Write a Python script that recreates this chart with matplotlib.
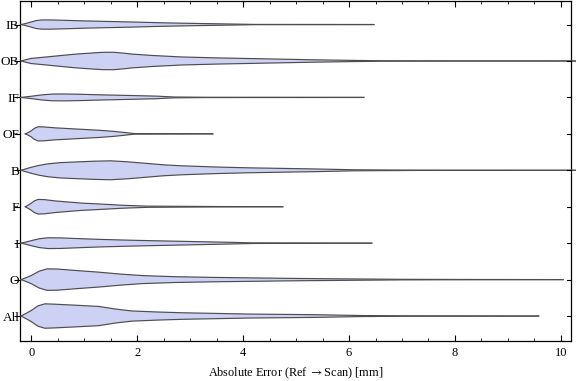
import matplotlib
matplotlib.use("Agg")
import matplotlib.pyplot as plt
from matplotlib.ticker import MultipleLocator

plt.rcParams['font.family'] = ['Liberation Serif', 'DejaVu Serif']
plt.rcParams['mathtext.fontset'] = 'stix'

categories = ["IB", "OB", "IF", "OF", "B", "F", "I", "O", "All"]

# violin outlines: positions along x (mm) and half-widths (in row units)
IB_x = [-0.19, -0.1, 0.0, 0.1, 0.2, 0.35, 0.6, 1.0, 1.3, 1.9, 2.5, 3.2, 3.8, 4.2, 6.47]
IB_w = [0, 0.03, 0.07, 0.11, 0.126, 0.127, 0.118, 0.1, 0.09, 0.07, 0.047, 0.028, 0.014, 0.004, 0.0015]
OB_x = [-0.19, -0.1, 0.0, 0.32, 0.6, 0.83, 1.1, 1.35, 1.55, 1.75, 1.9, 2.3, 2.85, 3.5, 4.1,
        5.36, 6.0, 6.6, 8.1, 10.4]
OB_w = [0, 0.035, 0.07, 0.115, 0.155, 0.187, 0.215, 0.238, 0.24, 0.215, 0.19, 0.15, 0.11, 0.085,
        0.068, 0.032, 0.018, 0.006, 0.002, 0.001]
IF_x = [-0.19, -0.1, 0.0, 0.2, 0.4, 0.6, 0.9, 1.27, 1.8, 2.34, 2.7, 3.3, 6.28]
IF_w = [0, 0.015, 0.032, 0.07, 0.092, 0.095, 0.088, 0.073, 0.055, 0.037, 0.012, 0.004, 0.0015]
OF_x = [-0.11, -0.05, 0.0, 0.06, 0.13, 0.25, 0.45, 0.64, 0.95, 1.27, 1.55, 1.77, 1.95, 3.43]
OF_w = [0, 0.04, 0.08, 0.15, 0.195, 0.19, 0.165, 0.15, 0.125, 0.1, 0.07, 0.037, 0.008, 0.0015]
B_x = [-0.19, -0.1, 0.0, 0.15, 0.32, 0.55, 0.83, 1.2, 1.5, 1.8, 2.2, 2.5, 2.85, 3.5, 4.1, 5.36,
       6.1, 7.25, 10.4]
B_w = [0, 0.04, 0.082, 0.135, 0.178, 0.21, 0.228, 0.25, 0.26, 0.235, 0.187, 0.15, 0.123, 0.09,
       0.068, 0.037, 0.014, 0.004, 0.001]
F_x = [-0.11, -0.05, 0.0, 0.06, 0.13, 0.25, 0.45, 0.64, 0.95, 1.27, 1.72, 2.2, 3.6, 4.75]
F_w = [0, 0.05, 0.095, 0.16, 0.2, 0.195, 0.16, 0.137, 0.1, 0.077, 0.041, 0.016, 0.005, 0.0015]
I_x = [-0.19, -0.1, 0.0, 0.15, 0.32, 0.55, 0.9, 1.27, 1.9, 2.53, 3.2, 3.8, 4.2, 6.43]
I_w = [0, 0.03, 0.068, 0.12, 0.148, 0.145, 0.125, 0.105, 0.08, 0.06, 0.04, 0.022, 0.008, 0.0015]
O_x = [-0.19, -0.1, 0.0, 0.15, 0.3, 0.5, 0.8, 1.27, 1.7, 2.1, 2.7, 3.47, 5.0, 6.1, 7.0, 8.43, 10.04]
O_w = [0, 0.05, 0.11, 0.23, 0.295, 0.29, 0.255, 0.205, 0.15, 0.11, 0.08, 0.06, 0.032, 0.018,
       0.008, 0.003, 0.001]
All_x = [-0.19, -0.1, 0.0, 0.13, 0.26, 0.45, 0.8, 1.27, 1.6, 1.9, 2.4, 2.85, 4.1, 5.36, 6.2,
         7.0, 8.3, 9.58]
All_w = [0, 0.07, 0.15, 0.28, 0.335, 0.325, 0.3, 0.265, 0.19, 0.14, 0.11, 0.09, 0.055, 0.037,
         0.015, 0.006, 0.003, 0.0]

profiles = {
    "IB": (IB_x, IB_w), "OB": (OB_x, OB_w), "IF": (IF_x, IF_w),
    "OF": (OF_x, OF_w), "B": (B_x, B_w), "F": (F_x, F_w),
    "I": (I_x, I_w), "O": (O_x, O_w), "All": (All_x, All_w),
}
overflow = {"OB", "B"}

fig = plt.figure(figsize=(5.76, 3.81), dpi=100)
ax = fig.add_axes([20/576, 40/381, 551/576, 340.5/381])

n = len(categories)
for i, cat in enumerate(categories):
    pos = n - i
    xs, ws = profiles[cat]
    lower = [pos - w for w in ws]
    upper = [pos + w for w in ws]
    clip = cat not in overflow
    ax.fill_between(xs, lower, upper, facecolor="#cdd1f4", edgecolor="none",
                    clip_on=clip, zorder=2)
    ax.plot(xs, upper, color="#4d4d4d", lw=0.85, clip_on=clip, zorder=3)
    ax.plot(xs, lower, color="#4d4d4d", lw=0.85, clip_on=clip, zorder=3)

ax.set_xlim(-0.21, 10.19)
ax.set_ylim(0.315, 9.66)

ax.set_yticks(range(n, 0, -1))
ax.set_yticklabels(categories)
ax.xaxis.set_major_locator(MultipleLocator(2))
ax.xaxis.set_minor_locator(MultipleLocator(0.5))

ax.tick_params(axis='x', which='major', direction='in', length=4, width=0.8,
               top=True, labelsize=9, pad=4)
ax.tick_params(axis='x', which='minor', direction='in', length=2.2, width=0.6, top=True)
ax.tick_params(axis='y', which='major', direction='out', length=4, width=0.8,
               right=False, labelsize=9.5, pad=-3.5)
ax.tick_params(axis='y', which='minor', left=False, right=False)
for t in ax.get_yticks():
    ax.plot([10.19 - 0.07, 10.19], [t, t], color="black", lw=0.8, clip_on=False, zorder=4)

for s in ax.spines.values():
    s.set_linewidth(0.9)

ax.set_xlabel(r"Absolute Error (Ref $\rightarrow$Scan) [mm]", fontsize=8.8, labelpad=5)

fig.savefig("out.png", dpi=100)
